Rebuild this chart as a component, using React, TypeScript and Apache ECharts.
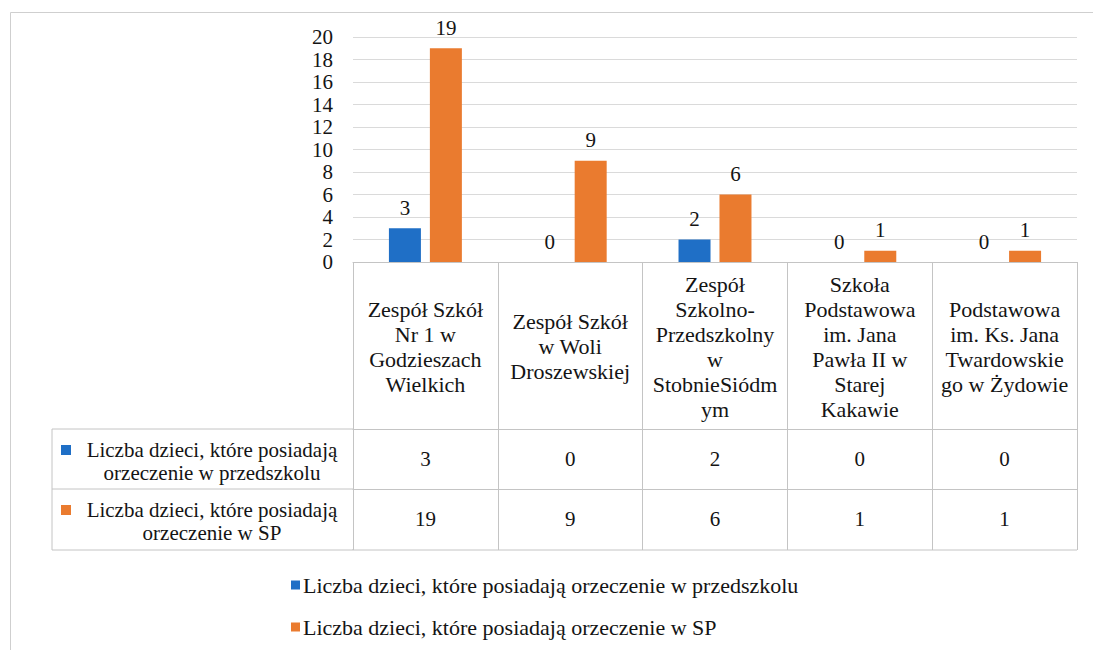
import React, { useEffect, useRef } from "react";
import * as echarts from "echarts";

const categories = [
  "Zespół Szkół\nNr 1 w\nGodzieszach\nWielkich",
  "Zespół Szkół\nw Woli\nDroszewskiej",
  "Zespół\nSzkolno-\nPrzedszkolny\nw\nStobnieSiódm\nym",
  "Szkoła\nPodstawowa\nim. Jana\nPawła II w\nStarej\nKakawie",
  "Podstawowa\nim. Ks. Jana\nTwardowskie\ngo w Żydowie",
];
const seriesNames = [
  "Liczba dzieci, które posiadają orzeczenie w przedszkolu",
  "Liczba dzieci, które posiadają orzeczenie w SP",
];
const rowHeaders = [
  "Liczba dzieci, które posiadają\norzeczenie w przedszkolu",
  "Liczba dzieci, które posiadają\norzeczenie w SP",
];
const przedszkole = [3, 0, 2, 0, 0];
const sp = [19, 9, 6, 1, 1];
const yMin = 0;
const yMax = 20;
const yInterval = 2;

const COLORS = ["#1f6fc6", "#ea7b2f"];
const FONT = "Liberation Serif";
const TXT = "#141414";
const LINE = "#c4c4c4";
const FS_TEXT = 22;
const FS_NUM = 21;

export default function App() {
  const ref = useRef<HTMLDivElement>(null);
  useEffect(() => {
    if (!ref.current) return;
    const chart = echarts.init(ref.current, null, { renderer: "svg" });

    const gridLeft = 353;
    const gridRight = 16;
    const gridTop = 37;
    const gridBottom = 388;
    const W = 1093;
    const H = 650;
    const axisY = H - gridBottom; // 262
    const hdrH = 167;
    const rowH = 60;
    const tableLeft = 52;
    const tableRight = W - gridRight;
    const row1Top = axisY + hdrH;
    const row2Top = row1Top + rowH;
    const tableBottom = row2Top + rowH + 1;

    const rowValues = [przedszkole, sp];

    const lineStyle = { stroke: LINE, lineWidth: 1 };
    const graphics: any[] = [
      {
        type: "rect",
        shape: { x: 10.5, y: 12.5, width: 1200, height: 800 },
        style: { fill: "none", stroke: "#cfcfcf", lineWidth: 1 },
        silent: true,
      },
      { type: "line", shape: { x1: tableLeft, y1: row1Top, x2: gridLeft, y2: row1Top }, style: lineStyle },
      { type: "line", shape: { x1: tableLeft, y1: row2Top, x2: gridLeft, y2: row2Top }, style: lineStyle },
      { type: "line", shape: { x1: tableLeft, y1: tableBottom, x2: tableRight, y2: tableBottom }, style: lineStyle },
      { type: "line", shape: { x1: tableLeft, y1: row1Top, x2: tableLeft, y2: tableBottom }, style: lineStyle },
      { type: "line", shape: { x1: gridLeft, y1: row2Top + rowH, x2: gridLeft, y2: tableBottom }, style: lineStyle },
    ];
    rowHeaders.forEach((t, i) => {
      const cy = row1Top + rowH * i + rowH / 2 + 2;
      graphics.push({
        type: "text",
        x: 212,
        y: cy,
        style: {
          text: t,
          fill: TXT,
          fontFamily: FONT,
          fontSize: 21,
          align: "center",
          verticalAlign: "middle",
          lineHeight: 23,
        },
      });
      graphics.push({
        type: "rect",
        shape: { x: 61, y: cy - 16, width: 10, height: 10 },
        style: { fill: COLORS[i] },
      });
    });

    const tableAxis = (idx: number) => ({
      type: "category",
      data: categories,
      position: "bottom",
      offset: hdrH + rowH * idx,
      axisLine: { show: true, lineStyle: { color: LINE } },
      axisTick: { show: true, length: rowH + (idx === 1 ? 1 : 0), lineStyle: { color: LINE } },
      axisLabel: {
        interval: 0,
        margin: rowH / 2,
        verticalAlign: "middle",
        fontFamily: FONT,
        fontSize: FS_NUM,
        color: TXT,
        formatter: (_v: string, i: number) => String(rowValues[idx][i]),
      },
      splitLine: { show: false },
    });

    chart.setOption({
      animation: false,
      backgroundColor: "#ffffff",
      textStyle: { fontFamily: FONT },
      grid: { left: gridLeft, right: gridRight, top: gridTop, bottom: gridBottom, containLabel: false },
      xAxis: [
        {
          type: "category",
          data: categories,
          position: "bottom",
          axisLine: { show: true, lineStyle: { color: LINE } },
          axisTick: { show: true, length: hdrH, lineStyle: { color: LINE } },
          axisLabel: {
            interval: 0,
            margin: hdrH / 2 + 1,
            verticalAlign: "middle",
            align: "center",
            fontFamily: FONT,
            fontSize: FS_TEXT,
            lineHeight: 25,
            color: TXT,
          },
        },
        tableAxis(0),
        tableAxis(1),
      ],
      yAxis: {
        type: "value",
        min: yMin,
        max: yMax,
        interval: yInterval,
        axisLine: { show: false },
        axisTick: { show: false },
        axisLabel: { fontFamily: FONT, fontSize: FS_NUM, color: TXT, margin: 20 },
        splitLine: { show: true, lineStyle: { color: "#dadada", width: 1 } },
      },
      legend: {
        orient: "vertical",
        left: 291,
        top: 574,
        itemWidth: 9,
        itemHeight: 9,
        itemGap: 20,
        icon: "rect",
        padding: 0,
        textStyle: { fontFamily: FONT, fontSize: FS_TEXT, color: TXT, padding: [0, 0, 0, -2], lineHeight: 22 },
        data: seriesNames,
      },
      series: [
        {
          name: seriesNames[0],
          type: "bar",
          data: przedszkole,
          barWidth: 32,
          barGap: "28%",
          itemStyle: { color: COLORS[0] },
          label: { show: true, position: "top", distance: 10, fontFamily: FONT, fontSize: FS_NUM, color: TXT },
        },
        {
          name: seriesNames[1],
          type: "bar",
          data: sp,
          barWidth: 32,
          barGap: "28%",
          itemStyle: { color: COLORS[1] },
          label: { show: true, position: "top", distance: 10, fontFamily: FONT, fontSize: FS_NUM, color: TXT },
        },
      ],
      graphic: graphics,
    });
    return () => chart.dispose();
  }, []);
  return (
    <div
      ref={ref}
      style={{ position: "fixed", left: 0, top: 0, width: 1093, height: 650, background: "#fff" }}
    />
  );
}
